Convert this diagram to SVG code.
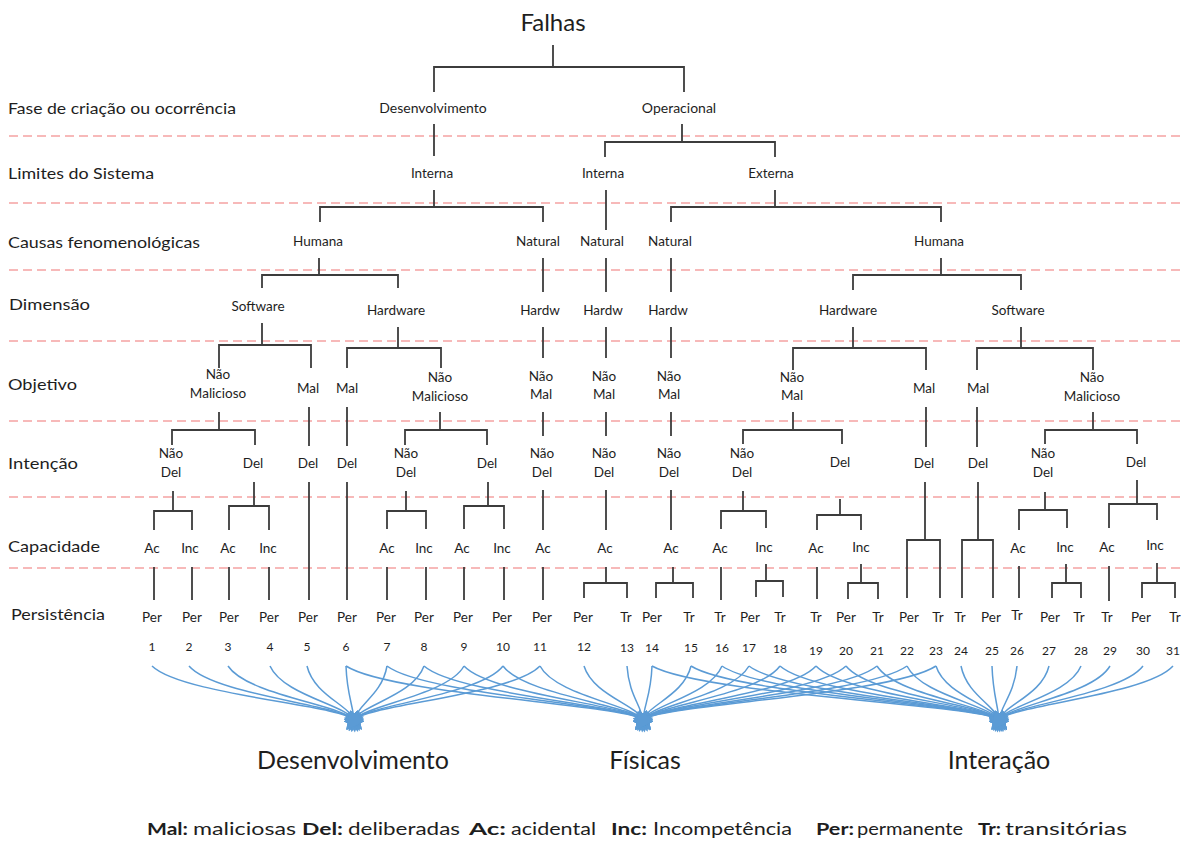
<svg xmlns="http://www.w3.org/2000/svg" width="1184" height="841" viewBox="0 0 1184 841">
<defs>
<style>
text{font-family:Lato,"Liberation Sans",sans-serif;fill:#1e1e1e}
.lvl{font-size:16px}
.nd{font-size:13.5px;text-anchor:middle}
.num{font-size:12px;text-anchor:middle}
.big{font-size:25px;text-anchor:middle}
.leg{font-size:17px}
.b{font-weight:bold}
.guide{stroke:#f5a3a3;stroke-width:1.3;stroke-dasharray:9 5;fill:none}
.tree{stroke:#3c3c3c;stroke-width:1.8;fill:none}
.flow{stroke:#5b9bd5;stroke-width:1.5;fill:none;marker-end:url(#tip)}
</style>
<marker id="tip" viewBox="0 0 10 10" refX="3" refY="5" markerWidth="18" markerHeight="18" markerUnits="userSpaceOnUse" orient="auto">
<path d="M0 0L10 5L0 10z" fill="#5b9bd5"/>
</marker>
</defs>
<rect width="1184" height="841" fill="#fff"/>

<!-- level separators -->
<g id="guides" class="guide">
<path d="M9 136H1184M9 203H1184M9 270H1184M9 341H1184M9 421H1184M9 497H1184M9 568H1184"/>
</g>

<!-- level names -->
<g id="levels" class="lvl">
<text x="8" y="114" textLength="228" lengthAdjust="spacingAndGlyphs">Fase de criação ou ocorrência</text>
<text x="8" y="179" textLength="146" lengthAdjust="spacingAndGlyphs">Limites do Sistema</text>
<text x="8" y="248" textLength="192" lengthAdjust="spacingAndGlyphs">Causas fenomenológicas</text>
<text x="9" y="310" textLength="81" lengthAdjust="spacingAndGlyphs">Dimensão</text>
<text x="8" y="390" textLength="69" lengthAdjust="spacingAndGlyphs">Objetivo</text>
<text x="8" y="469" textLength="70" lengthAdjust="spacingAndGlyphs">Intenção</text>
<text x="8" y="552" textLength="92" lengthAdjust="spacingAndGlyphs">Capacidade</text>
<text x="11" y="620" textLength="94" lengthAdjust="spacingAndGlyphs">Persistência</text>
</g>

<!-- tree and flow connectors -->
<g id="connectors">
<path class="tree" d="M553 45V67M434 92V67H684V92
M434 124V156
M682 124V142M605 157V142H775V157
M434 190V207M320 222V207H543V222
M606 190V230
M775 190V207M671 222V207H941V222
M319 258V275M262 288V275H398V288
M543 258V292M606 258V292M671 258V292
M941 258V275M853 290V275H1021V290
M262 323V345M219 368V345H311V368
M398 327V348M347 368V348H441V368
M543 327V358M606 327V358M671 327V358
M853 327V348M793 370V348H926V370
M1021 327V348M977 370V348H1093V370
M219 412V430M172 445V430H255V445
M309 407V446M347 407V446
M440 412V430M405 445V430H487V445
M543 412V436M606 412V436M671 412V436
M793 412V430M743 444V430H842V444
M926 407V447M977 407V447
M1093 412V430M1045 444V430H1137V444
M173 491V511M154 530V511H192V530
M254 482V506M229 530V506H269V530
M309 482V600M347 482V600
M406 491V511M387 529V511H426V529
M488 482V506M464 529V506H504V529
M543 490V530M606 490V530M671 490V530
M743 491V511M721 529V511H766V528
M840 499V515M817 530V515H861V530
M925 482V540M907 598V540H940V598
M978 482V540M962 598V540H993V598
M1045 492V510M1019 530V510H1067V528
M1137 480V504M1109 528V504H1157V520
M154 567V600M192 567V600M229 567V600M269 567V600
M387 567V600M426 567V600M464 567V600M504 567V600M543 567V600
M606 567V583M584 598V583H627V598
M673 567V583M656 598V583H693V598
M721 567V600
M766 564V581M756 597V581H783V597
M817 567V599
M861 564V583M848 599V583H878V599
M1019 566V598
M1066 564V583M1052 598V583H1081V598
M1109 566V601
M1157 563V583M1142 598V583H1175V598"/>

<!-- fault classes to Desenvolvimento -->
<path class="flow" d="M152 666C182 695 342 705 354 720"/>
<path class="flow" d="M189 666C214 695 342 705 354 720"/>
<path class="flow" d="M228 666C247 695 342 705 354 720"/>
<path class="flow" d="M270 666C283 695 346 705 354 720"/>
<path class="flow" d="M307 666C314 695 349 705 354 720"/>
<path class="flow" d="M346 666C347 695 353 705 354 720"/>
<path class="flow" d="M387 666C382 695 357 705 354 720"/>
<path class="flow" d="M424 666C414 695 361 705 354 720"/>
<path class="flow" d="M464 666C448 695 365 705 354 720"/>
<path class="flow" d="M503 666C481 695 366 705 354 720"/>
<path class="flow" d="M540 666C512 695 366 705 354 720"/>
<!-- fault classes to Físicas -->
<path class="flow" d="M346 666C391 695 631 705 643 720"/>
<path class="flow" d="M387 666C425 695 631 705 643 720"/>
<path class="flow" d="M424 666C457 695 631 705 643 720"/>
<path class="flow" d="M464 666C491 695 631 705 643 720"/>
<path class="flow" d="M503 666C524 695 631 705 643 720"/>
<path class="flow" d="M540 666C555 695 633 705 643 720"/>
<path class="flow" d="M584 666C593 695 637 705 643 720"/>
<path class="flow" d="M627 666C629 695 641 705 643 720"/>
<path class="flow" d="M652 666C651 695 644 705 643 720"/>
<path class="flow" d="M691 666C684 695 648 705 643 720"/>
<path class="flow" d="M722 666C710 695 651 705 643 720"/>
<path class="flow" d="M749 666C733 695 654 705 643 720"/>
<path class="flow" d="M780 666C759 695 655 705 643 720"/>
<path class="flow" d="M816 666C790 695 655 705 643 720"/>
<path class="flow" d="M846 666C816 695 655 705 643 720"/>
<path class="flow" d="M877 666C842 695 655 705 643 720"/>
<path class="flow" d="M907 666C867 695 655 705 643 720"/>
<path class="flow" d="M936 666C892 695 655 705 643 720"/>
<!-- fault classes to Interação -->
<path class="flow" d="M652 666C704 695 987 705 999 720"/>
<path class="flow" d="M691 666C737 695 987 705 999 720"/>
<path class="flow" d="M722 666C764 695 987 705 999 720"/>
<path class="flow" d="M749 666C787 695 987 705 999 720"/>
<path class="flow" d="M780 666C813 695 987 705 999 720"/>
<path class="flow" d="M816 666C843 695 987 705 999 720"/>
<path class="flow" d="M846 666C869 695 987 705 999 720"/>
<path class="flow" d="M877 666C895 695 987 705 999 720"/>
<path class="flow" d="M907 666C921 695 990 705 999 720"/>
<path class="flow" d="M936 666C945 695 993 705 999 720"/>
<path class="flow" d="M961 666C967 695 995 705 999 720"/>
<path class="flow" d="M992 666C993 695 998 705 999 720"/>
<path class="flow" d="M1017 666C1014 695 1001 705 999 720"/>
<path class="flow" d="M1049 666C1042 695 1004 705 999 720"/>
<path class="flow" d="M1081 666C1069 695 1007 705 999 720"/>
<path class="flow" d="M1110 666C1093 695 1010 705 999 720"/>
<path class="flow" d="M1143 666C1121 695 1011 705 999 720"/>
<path class="flow" d="M1173 666C1147 695 1011 705 999 720"/>
</g>

<!-- root -->
<g id="n-falhas"><text x="553" y="31" style="font-size:24px;text-anchor:middle">Falhas</text></g>

<!-- phase -->
<g id="n-desenvolvimento" class="nd"><text x="433" y="113" style="font-size:14px">Desenvolvimento</text></g>
<g id="n-operacional" class="nd"><text x="679" y="113" style="font-size:14px">Operacional</text></g>

<!-- system boundaries -->
<g id="n-interna-1" class="nd"><text x="432" y="178">Interna</text></g>
<g id="n-interna-2" class="nd"><text x="603" y="178">Interna</text></g>
<g id="n-externa" class="nd"><text x="771" y="178">Externa</text></g>

<!-- phenomenological cause -->
<g id="n-humana-1" class="nd"><text x="318" y="246">Humana</text></g>
<g id="n-natural-1" class="nd"><text x="538" y="246">Natural</text></g>
<g id="n-natural-2" class="nd"><text x="602" y="246">Natural</text></g>
<g id="n-natural-3" class="nd"><text x="670" y="246">Natural</text></g>
<g id="n-humana-2" class="nd"><text x="939" y="246">Humana</text></g>

<!-- dimension -->
<g id="n-software-1" class="nd"><text x="258" y="311">Software</text></g>
<g id="n-hardware-1" class="nd"><text x="396" y="315">Hardware</text></g>
<g id="n-hardw-1" class="nd"><text x="540" y="315">Hardw</text></g>
<g id="n-hardw-2" class="nd"><text x="603" y="315">Hardw</text></g>
<g id="n-hardw-3" class="nd"><text x="668" y="315">Hardw</text></g>
<g id="n-hardware-2" class="nd"><text x="848" y="315">Hardware</text></g>
<g id="n-software-2" class="nd"><text x="1018" y="315">Software</text></g>

<!-- objective -->
<g id="n-naomal-1" class="nd"><text x="218" y="379">Não</text><text x="218" y="398">Malicioso</text></g>
<g id="n-mal-1" class="nd"><text x="308" y="393">Mal</text></g>
<g id="n-mal-2" class="nd"><text x="347" y="393">Mal</text></g>
<g id="n-naomal-2" class="nd"><text x="440" y="382">Não</text><text x="440" y="401">Malicioso</text></g>
<g id="n-naomal-3" class="nd"><text x="541" y="381">Não</text><text x="541" y="399">Mal</text></g>
<g id="n-naomal-4" class="nd"><text x="604" y="381">Não</text><text x="604" y="399">Mal</text></g>
<g id="n-naomal-5" class="nd"><text x="669" y="381">Não</text><text x="669" y="399">Mal</text></g>
<g id="n-naomal-6" class="nd"><text x="792" y="382">Não</text><text x="792" y="400">Mal</text></g>
<g id="n-mal-3" class="nd"><text x="924" y="393">Mal</text></g>
<g id="n-mal-4" class="nd"><text x="978" y="393">Mal</text></g>
<g id="n-naomal-7" class="nd"><text x="1092" y="382">Não</text><text x="1092" y="401">Malicioso</text></g>

<!-- intent -->
<g id="n-naodel-1" class="nd"><text x="171" y="458">Não</text><text x="171" y="477">Del</text></g>
<g id="n-del-1" class="nd"><text x="253" y="468">Del</text></g>
<g id="n-del-2" class="nd"><text x="308" y="468">Del</text></g>
<g id="n-del-3" class="nd"><text x="347" y="468">Del</text></g>
<g id="n-naodel-2" class="nd"><text x="406" y="458">Não</text><text x="406" y="477">Del</text></g>
<g id="n-del-4" class="nd"><text x="487" y="468">Del</text></g>
<g id="n-naodel-3" class="nd"><text x="542" y="458">Não</text><text x="542" y="477">Del</text></g>
<g id="n-naodel-4" class="nd"><text x="604" y="458">Não</text><text x="604" y="477">Del</text></g>
<g id="n-naodel-5" class="nd"><text x="669" y="458">Não</text><text x="669" y="477">Del</text></g>
<g id="n-naodel-6" class="nd"><text x="742" y="458">Não</text><text x="742" y="477">Del</text></g>
<g id="n-del-5" class="nd"><text x="840" y="467">Del</text></g>
<g id="n-del-6" class="nd"><text x="924" y="468">Del</text></g>
<g id="n-del-7" class="nd"><text x="978" y="468">Del</text></g>
<g id="n-naodel-7" class="nd"><text x="1043" y="458">Não</text><text x="1043" y="477">Del</text></g>
<g id="n-del-8" class="nd"><text x="1136" y="467">Del</text></g>

<!-- capability -->
<g id="n-cap-1" class="nd"><text x="152" y="553">Ac</text></g>
<g id="n-cap-2" class="nd"><text x="190" y="553">Inc</text></g>
<g id="n-cap-3" class="nd"><text x="228" y="553">Ac</text></g>
<g id="n-cap-4" class="nd"><text x="268" y="553">Inc</text></g>
<g id="n-cap-5" class="nd"><text x="387" y="553">Ac</text></g>
<g id="n-cap-6" class="nd"><text x="424" y="553">Inc</text></g>
<g id="n-cap-7" class="nd"><text x="462" y="553">Ac</text></g>
<g id="n-cap-8" class="nd"><text x="502" y="553">Inc</text></g>
<g id="n-cap-9" class="nd"><text x="543" y="553">Ac</text></g>
<g id="n-cap-10" class="nd"><text x="605" y="553">Ac</text></g>
<g id="n-cap-11" class="nd"><text x="671" y="553">Ac</text></g>
<g id="n-cap-12" class="nd"><text x="720" y="553">Ac</text></g>
<g id="n-cap-13" class="nd"><text x="764" y="552">Inc</text></g>
<g id="n-cap-14" class="nd"><text x="816" y="553">Ac</text></g>
<g id="n-cap-15" class="nd"><text x="861" y="552">Inc</text></g>
<g id="n-cap-16" class="nd"><text x="1018" y="553">Ac</text></g>
<g id="n-cap-17" class="nd"><text x="1065" y="552">Inc</text></g>
<g id="n-cap-18" class="nd"><text x="1107" y="552">Ac</text></g>
<g id="n-cap-19" class="nd"><text x="1155" y="550">Inc</text></g>

<!-- persistence -->
<g id="n-p1" class="nd"><text x="152" y="622">Per</text></g>
<g id="n-p2" class="nd"><text x="192" y="622">Per</text></g>
<g id="n-p3" class="nd"><text x="229" y="622">Per</text></g>
<g id="n-p4" class="nd"><text x="269" y="622">Per</text></g>
<g id="n-p5" class="nd"><text x="308" y="622">Per</text></g>
<g id="n-p6" class="nd"><text x="347" y="622">Per</text></g>
<g id="n-p7" class="nd"><text x="386" y="622">Per</text></g>
<g id="n-p8" class="nd"><text x="424" y="622">Per</text></g>
<g id="n-p9" class="nd"><text x="463" y="622">Per</text></g>
<g id="n-p10" class="nd"><text x="502" y="622">Per</text></g>
<g id="n-p11" class="nd"><text x="542" y="622">Per</text></g>
<g id="n-p12" class="nd"><text x="583" y="622">Per</text></g>
<g id="n-p13" class="nd"><text x="626" y="622">Tr</text></g>
<g id="n-p14" class="nd"><text x="652" y="622">Per</text></g>
<g id="n-p15" class="nd"><text x="689" y="622">Tr</text></g>
<g id="n-p16" class="nd"><text x="720" y="622">Tr</text></g>
<g id="n-p17" class="nd"><text x="750" y="622">Per</text></g>
<g id="n-p18" class="nd"><text x="780" y="622">Tr</text></g>
<g id="n-p19" class="nd"><text x="816" y="622">Tr</text></g>
<g id="n-p20" class="nd"><text x="846" y="622">Per</text></g>
<g id="n-p21" class="nd"><text x="878" y="622">Tr</text></g>
<g id="n-p22" class="nd"><text x="909" y="622">Per</text></g>
<g id="n-p23" class="nd"><text x="938" y="622">Tr</text></g>
<g id="n-p24" class="nd"><text x="960" y="622">Tr</text></g>
<g id="n-p25" class="nd"><text x="991" y="622">Per</text></g>
<g id="n-p26" class="nd"><text x="1017" y="620">Tr</text></g>
<g id="n-p27" class="nd"><text x="1050" y="622">Per</text></g>
<g id="n-p28" class="nd"><text x="1079" y="622">Tr</text></g>
<g id="n-p29" class="nd"><text x="1107" y="622">Tr</text></g>
<g id="n-p30" class="nd"><text x="1141" y="622">Per</text></g>
<g id="n-p31" class="nd"><text x="1175" y="622">Tr</text></g>

<!-- fault class numbers -->
<g id="numbers" class="num">
<text x="152" y="651">1</text><text x="189" y="651">2</text><text x="228" y="651">3</text>
<text x="270" y="651">4</text><text x="307" y="651">5</text><text x="346" y="651">6</text>
<text x="387" y="651">7</text><text x="424" y="651">8</text><text x="464" y="651">9</text>
<text x="503" y="651">10</text><text x="540" y="651">11</text><text x="584" y="651">12</text>
<text x="627" y="652">13</text><text x="652" y="652">14</text><text x="691" y="652">15</text>
<text x="722" y="652">16</text><text x="749" y="652">17</text><text x="780" y="653">18</text>
<text x="816" y="655">19</text><text x="846" y="655">20</text><text x="877" y="655">21</text>
<text x="907" y="655">22</text><text x="936" y="655">23</text><text x="961" y="655">24</text>
<text x="992" y="655">25</text><text x="1017" y="655">26</text><text x="1049" y="655">27</text>
<text x="1081" y="655">28</text><text x="1110" y="655">29</text><text x="1143" y="655">30</text>
<text x="1173" y="655">31</text>
</g>

<!-- fault groups -->
<g id="n-grp-desenvolvimento"><text class="big" x="353" y="769">Desenvolvimento</text></g>
<g id="n-grp-fisicas"><text class="big" x="645" y="769">Físicas</text></g>
<g id="n-grp-interacao"><text class="big" x="999" y="769">Interação</text></g>

<!-- legend -->
<g id="legend" class="leg">
<text x="147" y="835" class="b" textLength="41" lengthAdjust="spacingAndGlyphs">Mal:</text>
<text x="193" y="835" textLength="103" lengthAdjust="spacingAndGlyphs">maliciosas</text>
<text x="302" y="835" class="b" textLength="41" lengthAdjust="spacingAndGlyphs">Del:</text>
<text x="348" y="835" textLength="112" lengthAdjust="spacingAndGlyphs">deliberadas</text>
<text x="469" y="835" class="b" textLength="37" lengthAdjust="spacingAndGlyphs">Ac:</text>
<text x="511" y="835" textLength="85" lengthAdjust="spacingAndGlyphs">acidental</text>
<text x="611" y="835" class="b" textLength="36" lengthAdjust="spacingAndGlyphs">Inc:</text>
<text x="653" y="835" textLength="139" lengthAdjust="spacingAndGlyphs">Incompetência</text>
<text x="816" y="835" class="b" textLength="38" lengthAdjust="spacingAndGlyphs">Per:</text>
<text x="857" y="835" textLength="106" lengthAdjust="spacingAndGlyphs">permanente</text>
<text x="978" y="835" class="b" textLength="23" lengthAdjust="spacingAndGlyphs">Tr:</text>
<text x="1005" y="835" textLength="122" lengthAdjust="spacingAndGlyphs">transitórias</text>
</g>
</svg>
